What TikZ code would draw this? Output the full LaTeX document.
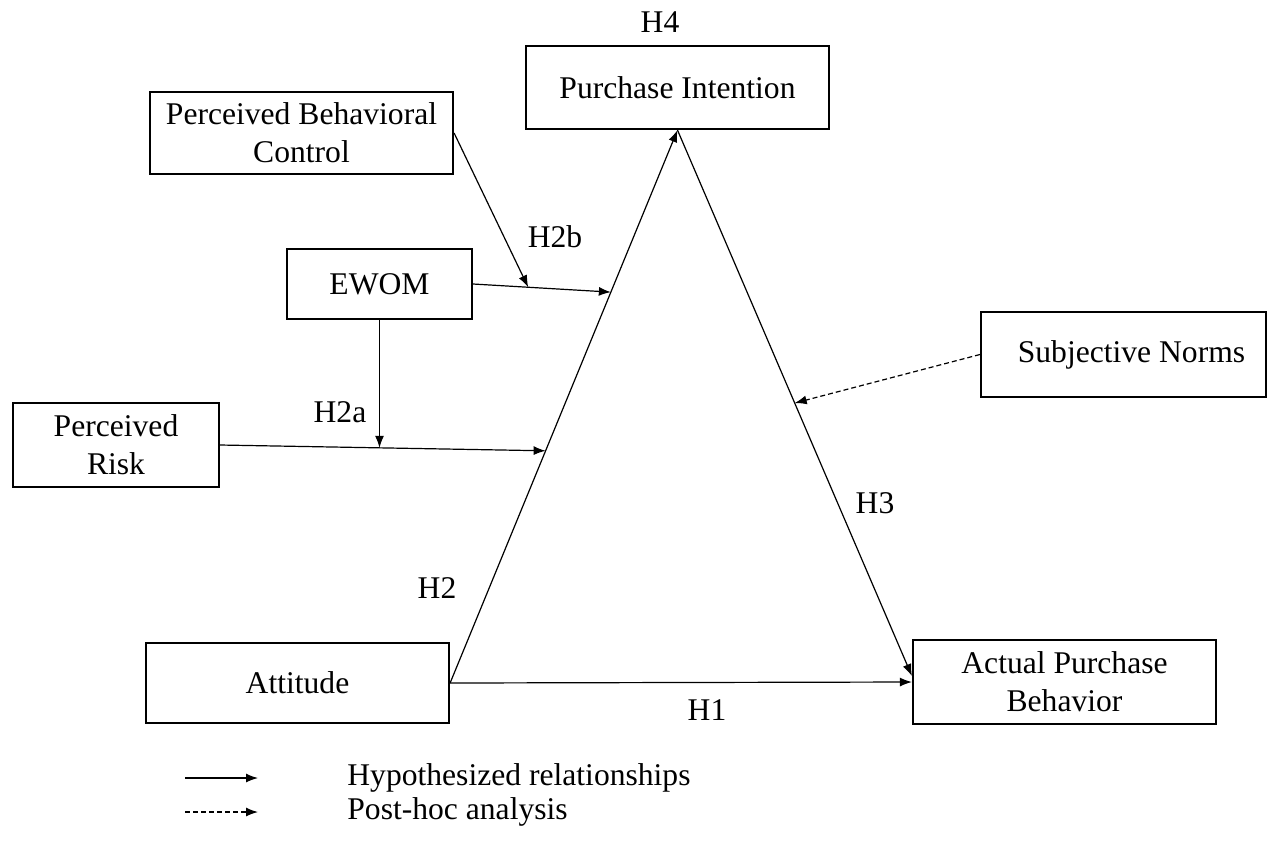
\documentclass[tikz,border=0pt]{standalone}
\usepackage{fontspec}
\setmainfont{Liberation Serif}
\usetikzlibrary{arrows.meta,calc}

\tikzset{
  box/.style={draw, line width=1.1pt, align=center, inner sep=0pt},
  hyp/.style={-{Latex[length=6pt,width=4.5pt]}, line width=0.6pt},
  posthoc/.style={hyp, dash pattern=on 2.5pt off 1.5pt},
  lbl/.style={inner sep=0pt}
}

\begin{document}
\begin{tikzpicture}[x=0.5pt, y=-0.5pt, font=\fontsize{15.8}{19}\selectfont]
        \useasboundingbox (0,0) rectangle (1270,843);

        % Constructs
        \node[box, minimum width=151.5pt, minimum height=41.5pt] (pi) at (677.5,87.5) {Purchase Intention};
        \node[box, minimum width=151.5pt, minimum height=41pt] (pbc) at (301.5,133) {Perceived Behavioral\\Control};
        \node[box, minimum width=92.5pt, minimum height=35pt] (ewom) at (379.5,284) {EWOM};
        \node[box, minimum width=103pt, minimum height=42pt] (risk) at (116,445) {Perceived\\Risk};
        \node[box, minimum width=142.5pt, minimum height=42.5pt] (sn) at (1123.5,354.5) {\hspace{8pt}Subjective Norms};
        \node[box, minimum width=151.5pt, minimum height=40pt] (att) at (297.5,683) {Attitude};
        \node[box, minimum width=151.5pt, minimum height=42pt] (apb) at (1064.5,682) {Actual Purchase\\Behavior};

        % Points on the paths
        \coordinate (tipE) at ($(att.east)!0.707!(pi.south)$);
        \coordinate (tipR) at ($(att.east)!0.42!(pi.south)$);
        \coordinate (tipS) at ($(pi.south)!0.5!([yshift=3pt]apb.west)$);
        \coordinate (mE) at ($(ewom.east)!0.4!(tipE)$);
        \coordinate (mR) at ($(risk.east)!0.49!(tipR)$);

        % Hypothesized paths
        \draw[hyp] (att.east) -- (pi.south);
        \draw[hyp] (pi.south) -- ([yshift=3pt]apb.west);
        \draw[hyp] (att.east) -- (apb.west);
        \draw[hyp] (ewom.east) -- (tipE);
        \draw[hyp] (risk.east) -- (tipR);
        \draw[hyp] (pbc.east) -- (mE);
        \draw[hyp] (ewom.south) -- (ewom.south |- mR);

        % Post-hoc path
        \draw[posthoc] (sn.west) -- (tipS);

        % Hypothesis labels
        \node[lbl] (h4) at (660,22) {H4};
        \node[lbl] (h2b) at (555,237) {H2b};
        \node[lbl] (h2a) at (340,412) {H2a};
        \node[lbl] (h2) at (437,588) {H2};
        \node[lbl] (h3) at (875,503) {H3};
        \node[lbl] (h1) at (707,710) {H1};

        % Legend
        \coordinate (lg1a) at (185,778);
        \coordinate (lg1b) at (258,778);
        \coordinate (lg2a) at (185,812);
        \coordinate (lg2b) at (258,812);
        \draw[hyp] (lg1a) -- (lg1b);
        \draw[posthoc] (lg2a) -- (lg2b);
        \node[lbl, anchor=west] (leg1) at (347,778) {Hypothesized relationships};
        \node[lbl, anchor=west] (leg2) at (347,812) {Post-hoc analysis};
\end{tikzpicture}
\end{document}
